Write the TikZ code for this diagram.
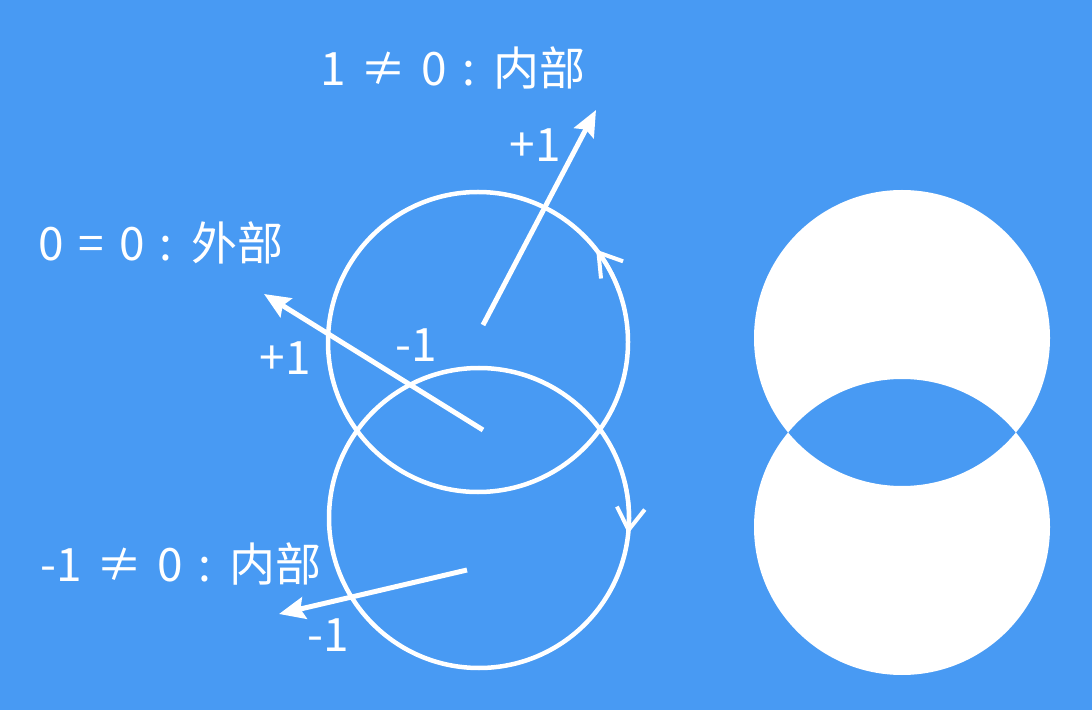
\documentclass[tikz,border=0pt]{standalone}
\usepackage{fontspec}
\setmainfont{Noto Sans CJK SC}
\usetikzlibrary{arrows.meta}
\definecolor{skyblue}{RGB}{72,154,243}
\newcommand{\tagfont}{\fontsize{46}{50}\selectfont\spaceskip=15pt\relax}
\begin{document}
\begin{tikzpicture}[x=1pt,y=1pt,
    loop/.style ={circle, draw=white, line width=4.5pt, minimum size=300pt, inner sep=0pt},
    tag/.style ={text=white, font=\tagfont, inner sep=0pt},
    ray/.style ={draw=white, line width=5pt, -{Stealth[length=26pt,width=22pt,inset=4pt]}},
    turn/.style ={draw=white, line width=4pt, -{Straight Barb[length=22pt,width=28pt]}}]
   \fill[skyblue] (0,0) rectangle (1092,710);
   % winding loops
   \node[loop] (U) at (478,368) {};
   \node[loop] (L) at (479,192) {};
   \draw[turn] ([shift={(20:150)}]U.center) arc (20:38:150);
   \draw[turn] ([shift={(14:150)}]L.center) arc (14:-6:150);
   % rays
   \coordinate (a1) at (483,385);
   \coordinate (b1) at (596,600);
   \coordinate (a2) at (483,280);
   \coordinate (b2) at (264,416);
   \coordinate (a3) at (467,140);
   \coordinate (b3) at (279,96);
   \draw[ray] (a1) to (b1);
   \draw[ray] (a2) to (b2);
   \draw[ray] (a3) to (b3);
   % labels
   \node[tag, anchor=west] (in1) at (320,642) {1 ≠ 0 : 内部};
   \node[tag, anchor=west] (out) at (38,467) {0 = 0 : 外部};
   \node[tag, anchor=west] (in2) at (40,146) {-1 ≠ 0 : 内部};
   \node[tag] (p1) at (535,565) {+1};
   \node[tag] (p2) at (285,352) {+1};
   \node[tag] (m1) at (416,365) {-1};
   \node[tag] (m2) at (328,75) {-1};
   % filled region
   \fill[white, even odd rule] (902,372) circle (148) (902,183) circle (148);
\end{tikzpicture}
\end{document}
